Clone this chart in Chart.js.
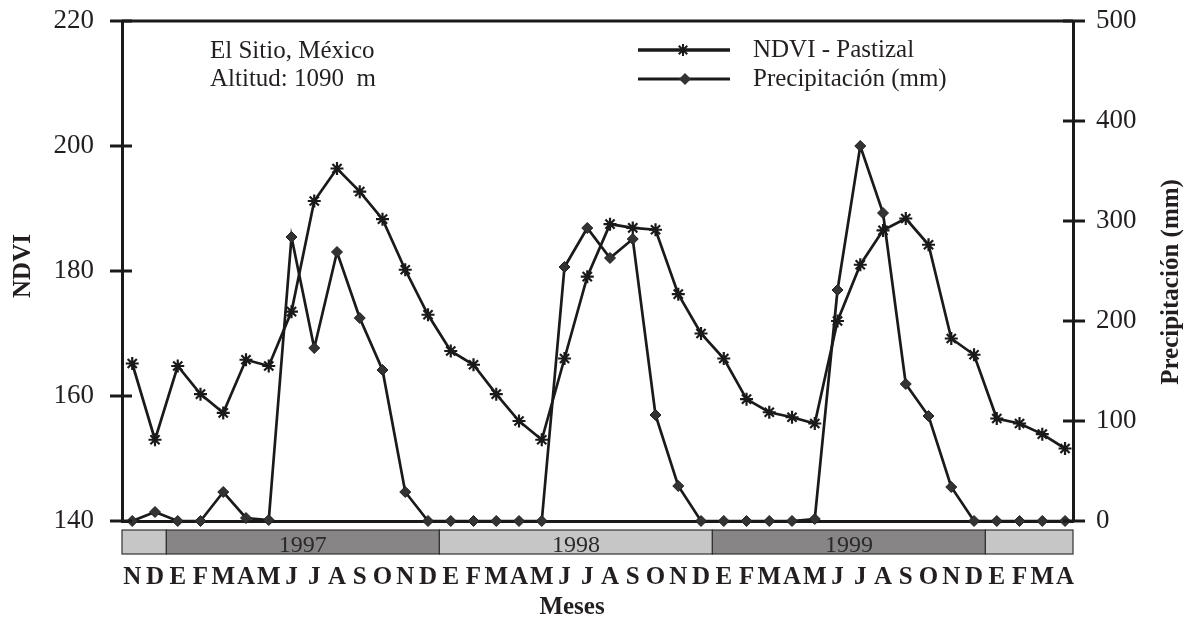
<!DOCTYPE html>
<html>
<head>
<meta charset="utf-8">
<title>NDVI y precipitación - El Sitio</title>
<script src="https://cdn.jsdelivr.net/npm/chart.js@4/dist/chart.umd.min.js"></script>
<style>
  html, body { margin: 0; padding: 0; background: #fff; }
</style>
</head>
<body>
<canvas id="ndviChart" width="1196" height="617"></canvas>
<script>
// Nov 1996 - Abr 2000, one point per month
const months = [
  'N','D',
  'E','F','M','A','M','J','J','A','S','O','N','D',
  'E','F','M','A','M','J','J','A','S','O','N','D',
  'E','F','M','A','M','J','J','A','S','O','N','D',
  'E','F','M','A'
];

const ndviPastizal = [
  165.2, 153.0,
  164.8, 160.3, 157.3, 165.8, 164.8, 173.5, 191.2, 196.4, 192.7, 188.3, 180.2, 173.0,
  167.2, 165.0, 160.3, 156.0, 153.0, 166.0, 179.1, 187.5, 186.9, 186.6, 176.3, 170.0,
  166.0, 159.5, 157.4, 156.6, 155.6, 172.0, 181.0, 186.5, 188.4, 184.2, 169.2, 166.6,
  156.4, 155.6, 153.9, 151.6
];

const precipitacion = [
  0, 9,
  0, 0, 29, 3, 1, 284, 173, 269, 203, 151, 29, 0,
  0, 0, 0, 0, 0, 254, 293, 263, 282, 106, 35, 0,
  0, 0, 0, 0, 2, 231, 375, 308, 137, 105, 34, 0,
  0, 0, 0, 0
];

const ndviTicks = [140, 160, 180, 200, 220];
const precipTicks = [0, 100, 200, 300, 400, 500];

// year strip under the x axis: breaks fall between D and E
const yearBreaks = [1.5, 13.5, 25.5, 37.5];
const yearLabels = ['', '1997', '1998', '1999', ''];

const SERIF = "'Liberation Serif', 'Times New Roman', serif";
const INK = '#1a1a1a';

function drawStar(ctx, x, y, r) {
  ctx.beginPath();
  for (let k = 0; k < 4; k++) {
    const a = k * Math.PI / 4;
    ctx.moveTo(x - r * Math.cos(a), y - r * Math.sin(a));
    ctx.lineTo(x + r * Math.cos(a), y + r * Math.sin(a));
  }
  ctx.stroke();
}

function drawDiamond(ctx, x, y, r) {
  ctx.beginPath();
  ctx.moveTo(x, y - r);
  ctx.lineTo(x + r, y);
  ctx.lineTo(x, y + r);
  ctx.lineTo(x - r, y);
  ctx.closePath();
  ctx.fill();
}

const decorations = {
  id: 'decorations',
  afterDraw(chart) {
    const { ctx, chartArea, scales } = chart;
    const xs = scales.x;
    ctx.save();

    // top frame line
    ctx.strokeStyle = INK;
    ctx.lineWidth = 3;
    ctx.beginPath();
    ctx.moveTo(chartArea.left, chartArea.top);
    ctx.lineTo(chartArea.right, chartArea.top);
    ctx.stroke();

    // tick marks crossing both vertical axes
    ndviTicks.forEach(v => {
      const y = scales.y.getPixelForValue(v);
      ctx.beginPath();
      ctx.moveTo(chartArea.left - 12, y);
      ctx.lineTo(chartArea.left + 10, y);
      ctx.stroke();
    });
    precipTicks.forEach(v => {
      const y = scales.y1.getPixelForValue(v);
      ctx.beginPath();
      ctx.moveTo(chartArea.right - 10, y);
      ctx.lineTo(chartArea.right + 12, y);
      ctx.stroke();
    });

    // year strip
    const edges = [xs.min, ...yearBreaks, xs.max];
    const stripTop = chartArea.bottom + 9;
    const stripH = 24;
    for (let i = 0; i < yearLabels.length; i++) {
      const x0 = xs.getPixelForValue(edges[i]);
      const x1 = xs.getPixelForValue(edges[i + 1]);
      ctx.fillStyle = i % 2 ? '#878585' : '#c6c6c6';
      ctx.fillRect(x0, stripTop, x1 - x0, stripH);
      ctx.strokeStyle = '#333';
      ctx.lineWidth = 1.2;
      ctx.strokeRect(x0, stripTop, x1 - x0, stripH);
      if (yearLabels[i]) {
        ctx.fillStyle = '#2a2a2a';
        ctx.font = '24px ' + SERIF;
        ctx.textAlign = 'center';
        ctx.textBaseline = 'alphabetic';
        ctx.fillText(yearLabels[i], (x0 + x1) / 2, stripTop + 22);
      }
    }

    // site notes
    ctx.fillStyle = '#231f20';
    ctx.font = '25px ' + SERIF;
    ctx.textAlign = 'left';
    ctx.textBaseline = 'alphabetic';
    ctx.fillText('El Sitio, México', 210, 58);
    ctx.fillText('Altitud: 1090  m', 210, 86);

    // legend
    ctx.strokeStyle = INK;
    ctx.lineWidth = 3.5;
    ctx.beginPath();
    ctx.moveTo(638, 50);
    ctx.lineTo(730, 50);
    ctx.stroke();
    ctx.lineWidth = 2;
    drawStar(ctx, 683, 50, 6);
    ctx.lineWidth = 3;
    ctx.beginPath();
    ctx.moveTo(638, 79);
    ctx.lineTo(730, 79);
    ctx.stroke();
    ctx.fillStyle = '#333';
    drawDiamond(ctx, 685, 79, 6);
    ctx.fillStyle = '#231f20';
    ctx.fillText('NDVI - Pastizal', 753, 57);
    ctx.fillText('Precipitación (mm)', 753, 86);

    // axis titles
    ctx.font = 'bold 25px ' + SERIF;
    ctx.textAlign = 'center';
    ctx.textBaseline = 'middle';
    ctx.save();
    ctx.translate(24, 266);
    ctx.rotate(-Math.PI / 2);
    ctx.fillText('NDVI', 0, 0);
    ctx.restore();
    ctx.save();
    ctx.translate(1172, 282);
    ctx.rotate(-Math.PI / 2);
    ctx.fillText('Precipitación (mm)', 0, 0);
    ctx.restore();
    ctx.font = 'bold 25px ' + SERIF;
    ctx.textBaseline = 'alphabetic';
    ctx.fillText('Meses', 572, 614);

    ctx.restore();
  }
};

const axisBorder = { display: true, color: INK, width: 3 };

// fixed axis widths; label overhang is handled by the layout padding
function fixWidth(w) {
  return s => {
    s.width = w;
    s.paddingTop = 0;
    s.paddingBottom = 0;
  };
}

new Chart(document.getElementById('ndviChart'), {
  type: 'line',
  data: {
    datasets: [
      {
        label: 'NDVI - Pastizal',
        data: ndviPastizal.map((v, i) => ({ x: i, y: v })),
        yAxisID: 'y',
        borderColor: INK,
        borderWidth: 2.7,
        pointStyle: 'star',
        pointRadius: 6.5,
        pointBorderWidth: 2.2,
        pointBorderColor: INK,
        pointBackgroundColor: INK,
        tension: 0,
        clip: false
      },
      {
        label: 'Precipitación (mm)',
        data: precipitacion.map((v, i) => ({ x: i, y: v })),
        yAxisID: 'y1',
        borderColor: INK,
        borderWidth: 2.7,
        pointStyle: 'rectRot',
        pointRadius: 5.5,
        pointBorderWidth: 1,
        pointBorderColor: '#222',
        pointBackgroundColor: '#333',
        tension: 0,
        clip: false
      }
    ]
  },
  options: {
    responsive: false,
    animation: false,
    devicePixelRatio: 1,
    layout: { padding: { top: 21, left: 0, right: 0, bottom: 0 } },
    plugins: {
      legend: { display: false },
      tooltip: { enabled: false }
    },
    scales: {
      x: {
        type: 'linear',
        position: 'bottom',
        min: -0.45,
        max: 41.35,
        grid: { display: false, drawTicks: false },
        border: axisBorder,
        ticks: {
          stepSize: 1,
          includeBounds: false,
          autoSkip: false,
          maxRotation: 0,
          padding: 42,
          color: '#231f20',
          font: { family: SERIF, size: 25, weight: 'bold' },
          callback: v => months[v] || ''
        },
        afterFit: s => { s.height = 96; }
      },
      y: {
        position: 'left',
        min: 140,
        max: 220,
        grid: { display: false, drawTicks: false },
        border: axisBorder,
        ticks: {
          stepSize: 20,
          padding: 28,
          color: '#231f20',
          font: { family: SERIF, size: 27 }
        },
        afterFit: fixWidth(122)
      },
      y1: {
        position: 'right',
        min: 0,
        max: 500,
        grid: { display: false, drawTicks: false },
        border: axisBorder,
        ticks: {
          stepSize: 100,
          padding: 23,
          color: '#231f20',
          font: { family: SERIF, size: 27 }
        },
        afterFit: fixWidth(123)
      }
    }
  },
  plugins: [decorations]
});
</script>
</body>
</html>
